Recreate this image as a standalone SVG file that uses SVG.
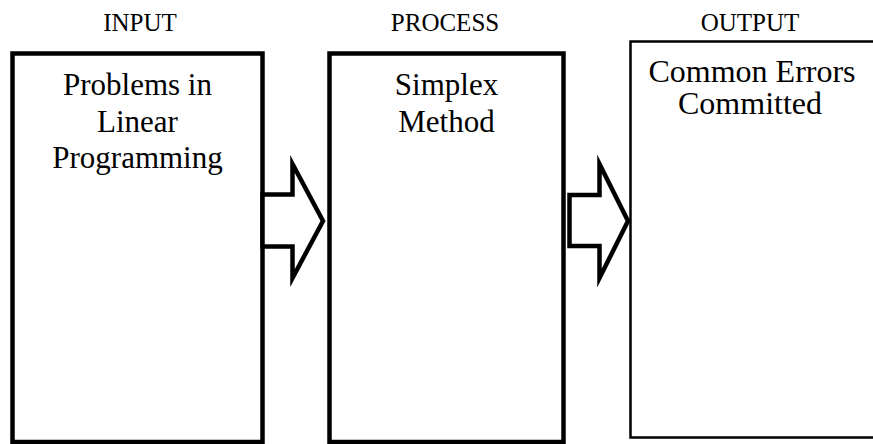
<svg xmlns="http://www.w3.org/2000/svg" width="873" height="444" viewBox="0 0 873 444">
  <style>
    .lbl { font-family: "Liberation Serif", "Times New Roman", serif; font-size: 25px; fill: #000; text-anchor: middle; }
    .txt { font-family: "Liberation Serif", "Times New Roman", serif; font-size: 31px; fill: #000; text-anchor: middle; }
    .big { font-size: 32px; }
    .box { fill: #fff; stroke: #000; stroke-width: 4.5; }
    .thin { fill: #fff; stroke: #000; stroke-width: 2.5; }
    .arrow { fill: #fff; stroke: #000; stroke-width: 4.5; stroke-linejoin: miter; stroke-miterlimit: 10; }
  </style>

  <!-- stage headings -->
  <text class="lbl" x="140" y="31">INPUT</text>
  <text class="lbl" x="445" y="31">PROCESS</text>
  <text class="lbl" x="750" y="31">OUTPUT</text>

  <g id="input">
    <rect class="box" x="12.5" y="53.5" width="250" height="388.5"/>
    <text class="txt" x="137.5" y="95">Problems in</text>
    <text class="txt" x="137.5" y="131.5">Linear</text>
    <text class="txt" x="137.5" y="168">Programming</text>
  </g>

  <g id="process">
    <rect class="box" x="329.5" y="53.5" width="234" height="388.5"/>
    <text class="txt" x="446.5" y="95">Simplex</text>
    <text class="txt" x="446.5" y="131.5">Method</text>
  </g>

  <g id="output">
    <rect class="thin" x="630.5" y="41.5" width="246" height="396"/>
    <text class="txt big" x="752" y="82">Common Errors</text>
    <text class="txt big" x="750" y="114">Committed</text>
  </g>

  <!-- block arrows between the stages -->
  <g id="connectors">
    <polygon class="arrow" points="262.5,194.5 292.5,194.5 292.5,164 323,221 292.5,278 292.5,246.5 262.5,246.5"/>
    <polygon class="arrow" points="569.5,195 599.5,195 599.5,164 628,221 599.5,278 599.5,246 569.5,246"/>
  </g>
</svg>
